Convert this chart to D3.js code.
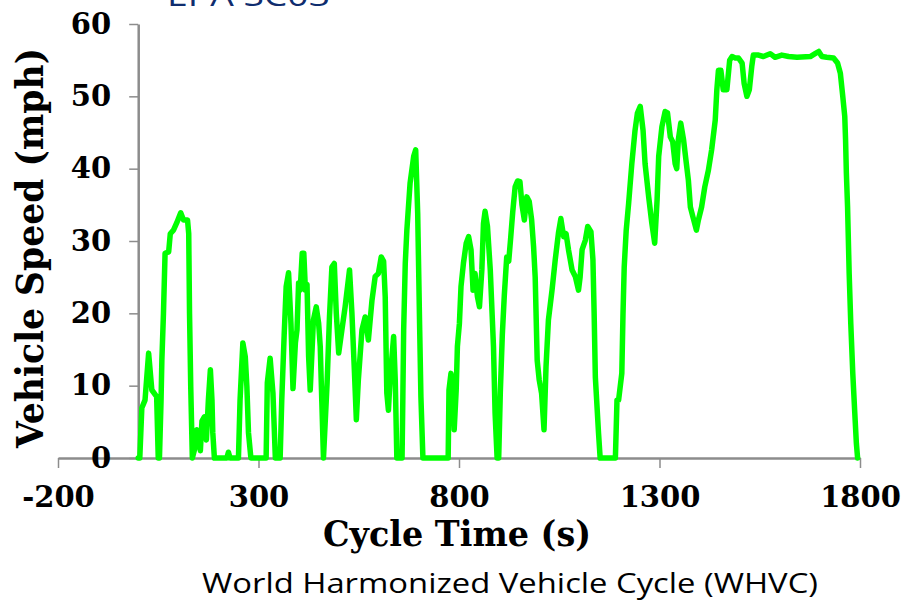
<!DOCTYPE html>
<html>
<head>
<meta charset="utf-8">
<script src="https://cdn.jsdelivr.net/npm/d3@7/dist/d3.min.js"></script>
<style>
  html, body { margin: 0; padding: 0; background: #ffffff; }
  svg { display: block; }
</style>
</head>
<body>
<svg id="chart" width="903" height="604"></svg>
<script>
// ---- data ----
const title = "EPA SC03";
const subtitle = "World Harmonized Vehicle Cycle (WHVC)";
const xLabel = "Cycle Time (s)";
const yLabel = "Vehicle Speed (mph)";
const xTicks = [-200, 300, 800, 1300, 1800];
const yTicks = [0, 10, 20, 30, 40, 50, 60];

const timeS = [
  0, 4, 9, 17, 26, 34, 46, 50, 53, 57, 59, 63, 67, 76, 80, 88, 96, 106, 113, 123, 126, 128, 131, 135,
  142, 146, 150, 155, 159, 165, 170, 173, 175, 180, 184, 186, 190, 221, 225, 229, 250, 254, 261, 267,
  271, 275, 281, 319, 322, 329, 336, 342, 354, 358, 364, 369, 375, 381, 386, 392, 396, 400, 404, 409,
  413, 417, 421, 425, 429, 437, 444, 450, 454, 458, 462, 471, 477, 483, 489, 494, 500, 508, 516, 527,
  533, 539, 544, 549, 558, 566, 574, 583, 591, 599, 606, 612, 616, 620, 624, 628, 637, 641, 645, 658,
  660, 662, 666, 670, 678, 687, 692, 697, 702, 705, 710, 773, 775, 780, 785, 788, 793, 796, 801, 805,
  811, 818, 824, 830, 835, 840, 846, 851, 857, 861, 865, 871, 878, 886, 890, 895, 899, 903, 908, 913,
  919, 924, 929, 934, 940, 946, 952, 957, 963, 969, 975, 981, 986, 990, 995, 1000, 1006, 1012, 1017,
  1023, 1032, 1040, 1048, 1054, 1061, 1067, 1073, 1082, 1090, 1098, 1102, 1107, 1115, 1121, 1129,
  1134, 1137, 1140, 1148, 1152, 1190, 1194, 1198, 1206, 1209, 1212, 1217, 1223, 1231, 1239, 1245,
  1252, 1259, 1264, 1273, 1281, 1288, 1294, 1298, 1306, 1314, 1320, 1327, 1333, 1339, 1343, 1347,
  1353, 1360, 1367, 1372, 1377, 1383, 1392, 1397, 1405, 1413, 1422, 1430, 1439, 1443, 1447, 1453,
  1459, 1468, 1475, 1481, 1489, 1497, 1506, 1511, 1518, 1524, 1530, 1534, 1547, 1559, 1576, 1588,
  1605, 1622, 1643, 1676, 1688, 1697, 1705, 1717, 1734, 1744, 1751, 1757, 1762, 1764, 1766, 1769,
  1773, 1777, 1782, 1787, 1791, 1794
];
const speedMph = [
  0, 0, 6.9, 8, 14.5, 9.4, 8.5, 0, 0, 8, 13.5, 20, 28.3, 28.5, 31, 31.5, 32.5, 33.9, 32.9, 32.9, 31, 20, 9.9, 0,
  1.5, 3.9, 3.4, 1, 5.1, 5.7, 2.5, 5.7, 8, 12.2, 8, 3.5, 0, 0, 0.8, 0, 0, 8, 15.9, 14,
  9.9, 3.5, 0, 0, 10.4, 13.8, 9, 0, 0, 8, 17, 23.7, 25.6, 18.5, 9.6, 15.9, 17.7, 24.2, 23.2, 28.3,
  28.3, 23.2, 24, 14, 9.4, 19.1, 20.9, 18.6, 15.4, 7.6, 0, 10.3, 19.5, 26.4, 26.9, 20, 14.5, 17.7, 20.9, 26,
  20, 12.2, 5.3, 10.8, 17.7, 19.5, 16.3, 21.8, 25.1, 25.5, 27.8, 27.2, 22.3, 9, 6.6, 10.8, 16.8, 10.8, 0, 0,
  8.5, 17.7, 26.9, 31.5, 38, 41.7, 42.6, 33.8, 17.7, 8.5, 0, 0, 9.4, 11.7, 9.4, 3.9, 9.4, 15.4, 18.6, 23.7,
  26.9, 29.7, 30.6, 28.8, 23.2, 25.5, 22.3, 20.9, 26, 32.4, 34.1, 32, 26, 15.4, 6.2, 0, 0, 9, 17, 22.5,
  27.8, 27.2, 30.5, 34, 37.5, 38.3, 38.2, 35, 32.9, 36.1, 35.5, 33, 29.2, 25, 13.5, 10.8, 8.9, 3.9, 12.6,
  19.1, 23.2, 27.4, 31.1, 33.1, 30.6, 31, 28.8, 26, 25.1, 23.2, 25, 28.8, 30.1, 32, 31.3,
  27.4, 20, 11.2, 3.4, 0, 0, 8, 8, 11.7, 20, 26.4, 31.5, 35.2, 40.7, 45.3, 47.7,
  48.6, 45.3, 40.7, 36.1, 32.4, 29.7, 35.7, 41.7, 45.8, 47.9, 47.7, 44.4, 43.7, 40.7, 40, 44,
  46.3, 44, 40.7, 38.4, 34.7, 33.4, 31.5, 32.9, 34.7, 37.5, 39.8, 42.6, 46.7, 50.9, 53.6, 53.6,
  50.9, 50.9, 55, 55.5, 55.3, 55.3, 54.6, 51.8, 50, 50.9, 54.1, 55.7, 55.7, 55.5, 55.9, 55.4,
  55.7, 55.5, 55.4, 55.5, 55.9, 56.2, 55.5, 55.4, 55.3, 54.6, 53.2, 50, 47.2, 44, 39.4, 34.7,
  25.5, 18.6, 11.7, 6.2, 2, 0
];

// ---- layout ----
const svg = d3.select("#chart");
const x = d3.scaleLinear().domain([-200, 1800]).range([58, 860]);
const y = d3.scaleLinear().domain([0, 60]).range([458, 24]);
const axisColor = "#8c8c8c";
const serif = "'DejaVu Serif', 'Liberation Serif', serif";
const sans = "'Open Sans', 'Noto Sans', 'Liberation Sans', sans-serif";
const plain = d => String(d);

// title (cut off at top, as in the reference)
svg.append("text")
  .attr("x", 167).attr("y", 6)
  .attr("font-family", sans).attr("font-size", 30)
  .attr("fill", "#0f2d6e")
  .attr("textLength", 163).attr("lengthAdjust", "spacingAndGlyphs")
  .text(title);

// x axis
const gx = svg.append("g").attr("transform", `translate(0,${y(0)})`)
  .call(d3.axisBottom(x).tickValues(xTicks).tickFormat(plain)
    .tickSize(10).tickPadding(18).tickSizeOuter(0));
gx.select(".domain").attr("stroke", axisColor).attr("stroke-width", 2.5);
gx.selectAll(".tick line").attr("stroke", axisColor).attr("stroke-width", 1.5);
gx.selectAll(".tick text")
  .attr("font-family", serif).attr("font-weight", "bold").attr("font-size", 29)
  .attr("fill", "#000");

// y axis at x = 0
const gy = svg.append("g").attr("transform", `translate(${x(0)},0)`)
  .call(d3.axisLeft(y).tickValues(yTicks).tickFormat(plain)
    .tickSize(9).tickPadding(18).tickSizeOuter(0));
gy.select(".domain").attr("stroke", axisColor).attr("stroke-width", 2.5);
gy.selectAll(".tick line").attr("stroke", axisColor).attr("stroke-width", 1.5);
gy.selectAll(".tick text")
  .attr("font-family", serif).attr("font-weight", "bold").attr("font-size", 29)
  .attr("fill", "#000");

// speed trace
const pts = timeS.map((t, i) => [t, speedMph[i]]);
svg.append("path")
  .datum(pts)
  .attr("fill", "none")
  .attr("stroke", "#00ff00")
  .attr("stroke-width", 5.5)
  .attr("stroke-linejoin", "round")
  .attr("stroke-linecap", "round")
  .attr("d", d3.line().x(d => x(d[0])).y(d => y(d[1])));

// axis titles
svg.append("text")
  .attr("x", 457).attr("y", 546)
  .attr("text-anchor", "middle")
  .attr("font-family", serif).attr("font-weight", "bold").attr("font-size", 36)
  .attr("textLength", 268).attr("lengthAdjust", "spacingAndGlyphs")
  .text(xLabel);

svg.append("text")
  .attr("transform", "translate(43,248) rotate(-90)")
  .attr("x", 0).attr("y", 0)
  .attr("text-anchor", "middle")
  .attr("font-family", serif).attr("font-weight", "bold").attr("font-size", 38)
  .attr("textLength", 400).attr("lengthAdjust", "spacingAndGlyphs")
  .text(yLabel);

// subtitle
svg.append("text")
  .attr("x", 510).attr("y", 593)
  .attr("text-anchor", "middle")
  .attr("font-family", sans).attr("font-size", 27)
  .attr("fill", "#000")
  .attr("textLength", 616).attr("lengthAdjust", "spacingAndGlyphs")
  .text(subtitle);
</script>
</body>
</html>
